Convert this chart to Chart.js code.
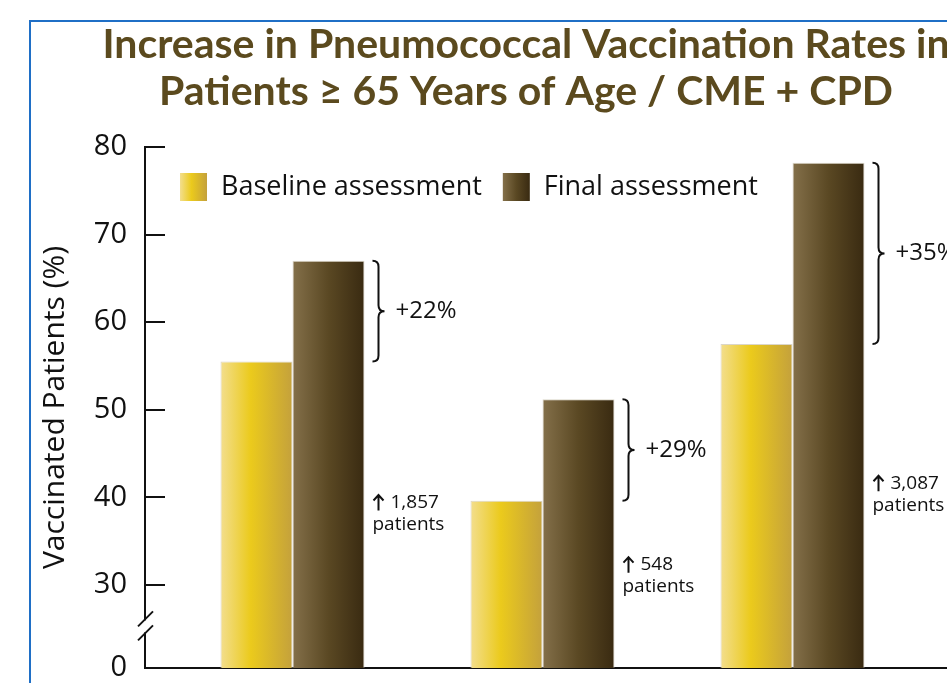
<!DOCTYPE html>
<html>
<head>
<meta charset="utf-8">
<script src="https://cdn.jsdelivr.net/npm/chart.js@4.4.1/dist/chart.umd.min.js"></script>
<style>
  html, body { margin: 0; padding: 0; background: #fff; overflow: hidden; width: 947px; height: 683px; }
  #frame { position: absolute; left: 29px; top: 20px; width: 1100px; height: 800px; border: 2px solid #1f6fc6; }
  #chart { position: absolute; left: 0; top: 0; }
</style>
</head>
<body>
<div id="frame"></div>
<canvas id="chart" width="1052" height="683"></canvas>
<script>
const groups       = [1, 2, 3];
const baseline     = [55.5, 39.6, 57.5];
const final        = [67.0, 51.2, 78.2];
const increases    = ['+22%', '+29%', '+35%'];
const patientGains = ['1,857', '548', '3,087'];
const yTicks       = [30, 40, 50, 60, 70, 80];
const seriesNames  = ['Baseline assessment', 'Final assessment'];

const AXIS_FLOOR = 20.5;   // broken axis, bottom is labelled 0
const CAT_PCT    = 0.576;
const INK        = '#111';

const STOPS = [
  [[0, '#f3de8e'], [0.42, '#ebca1c'], [1, '#c4a13c']],
  [[0, '#84704a'], [0.5, '#5a4823'], [1, '#392a11']],
];

function hGradient(ctx, left, width, stops) {
  const g = ctx.createLinearGradient(left, 0, left + width, 0);
  stops.forEach(([o, c]) => g.addColorStop(o, c));
  return g;
}

function barFill(c) {
  const stops = STOPS[c.datasetIndex];
  const x = c.chart.scales.x;
  if (c.type !== 'data' || !x || !x.width) return stops[1][1];
  const w  = (x.getPixelForValue(2) - x.getPixelForValue(1)) * CAT_PCT / 2;
  const cx = x.getPixelForValue(groups[c.dataIndex]);
  const left = c.datasetIndex === 0 ? cx - w : cx;
  return hGradient(c.chart.ctx, left, w, stops);
}

function drawBrace(ctx, x, y1, y2, w) {
  const m = (y1 + y2) / 2, r = w / 2;
  ctx.beginPath();
  ctx.moveTo(x, y1);
  ctx.quadraticCurveTo(x + r, y1, x + r, y1 + r);
  ctx.lineTo(x + r, m - r);
  ctx.quadraticCurveTo(x + r, m, x + w, m);
  ctx.quadraticCurveTo(x + r, m, x + r, m + r);
  ctx.lineTo(x + r, y2 - r);
  ctx.quadraticCurveTo(x + r, y2, x, y2);
  ctx.stroke();
}

function drawUpArrow(ctx, x, y) {
  ctx.beginPath();
  ctx.moveTo(x, y + 8);
  ctx.lineTo(x, y - 7);
  ctx.moveTo(x - 5, y - 2);
  ctx.lineTo(x, y - 7.5);
  ctx.lineTo(x + 5, y - 2);
  ctx.stroke();
}

// braces, % increase and patient counts
const notesPlugin = {
  id: 'notes',
  afterDatasetsDraw(chart, args, opts) {
    const { ctx, scales: { y } } = chart;
    const mb = chart.getDatasetMeta(0).data;
    const mf = chart.getDatasetMeta(1).data;
    ctx.save();
    ctx.strokeStyle = INK;
    ctx.fillStyle = INK;
    ctx.lineWidth = 2;
    ctx.textAlign = 'left';
    ctx.textBaseline = 'middle';
    groups.forEach((g, i) => {
      const right = mf[i].x + mf[i].width / 2;
      const top = mf[i].y, bot = mb[i].y;
      drawBrace(ctx, right + 8, top, bot, 12);
      ctx.font = '24px "Open Sans"';
      ctx.fillText(increases[i], right + 31, (top + bot) / 2);
      const ny = y.getPixelForValue(opts.noteAt[i]);
      drawUpArrow(ctx, right + 14, ny);
      ctx.font = '19px "Open Sans"';
      ctx.fillText(patientGains[i], right + 26, ny);
      ctx.fillText('patients', right + 8, ny + 22);
    });
    ctx.restore();
  }
};

// legend drawn inside the plot area
const insideLegend = {
  id: 'insideLegend',
  afterDraw(chart) {
    const { ctx, chartArea } = chart;
    let x = chartArea.left + 35;
    const yc = chartArea.top + 40;
    ctx.save();
    ctx.font = '27px "Open Sans"';
    ctx.textBaseline = 'middle';
    chart.data.datasets.forEach((ds, i) => {
      ctx.fillStyle = hGradient(ctx, x, 27, STOPS[i]);
      ctx.fillRect(x, yc - 14, 27, 28);
      ctx.fillStyle = INK;
      ctx.fillText(ds.label, x + 41, yc);
      x += 41 + ctx.measureText(ds.label).width + 21;
    });
    ctx.restore();
  }
};

// axis break marks on the y axis
const axisBreak = {
  id: 'axisBreak',
  afterDraw(chart) {
    const { ctx, chartArea, scales: { y } } = chart;
    const x0 = chartArea.left;
    const yb = y.getPixelForValue((AXIS_FLOOR + yTicks[0]) / 2);
    ctx.save();
    ctx.fillStyle = '#fff';
    ctx.fillRect(x0 - 3, yb - 6, 6, 12);
    ctx.strokeStyle = INK;
    ctx.lineWidth = 2;
    [-7, 7].forEach(d => {
      ctx.beginPath();
      ctx.moveTo(x0 - 7, yb + d + 7);
      ctx.lineTo(x0 + 8, yb + d - 8);
      ctx.stroke();
    });
    ctx.restore();
  }
};

new Chart(document.getElementById('chart').getContext('2d'), {
  type: 'bar',
  data: {
    datasets: [
      { label: seriesNames[0], data: baseline.map((v, i) => ({ x: groups[i], y: v })), backgroundColor: barFill },
      { label: seriesNames[1], data: final.map((v, i) => ({ x: groups[i], y: v })),    backgroundColor: barFill },
    ],
  },
  options: {
    responsive: false,
    animation: false,
    events: [],
    categoryPercentage: CAT_PCT,
    barPercentage: 1,
    borderWidth: 1,
    borderColor: 'rgba(215,210,195,0.9)',
    borderSkipped: 'bottom',
    layout: { padding: { left: 0, right: 0, top: 0, bottom: 15 } },
    scales: {
      x: {
        type: 'linear', offset: false, min: 0.41, max: 4.038,
        afterBuildTicks: s => { s.ticks = groups.map(v => ({ value: v })); },
        grid: { display: false, drawTicks: false, offset: false },
        ticks: { display: false },
        border: { color: INK, width: 2 },
      },
      y: {
        min: AXIS_FLOOR, max: 80,
        afterBuildTicks: s => { s.ticks = [AXIS_FLOOR, ...yTicks].map(v => ({ value: v })); },
        afterFit: s => { s.width = 145; s.paddingTop = 0; s.paddingBottom = 0; },
        border: { color: INK, width: 2 },
        grid: { drawOnChartArea: false, tickLength: -20, color: INK, lineWidth: 2 },
        ticks: {
          padding: 38, color: INK, autoSkip: false,
          font: { family: 'Open Sans', size: 29 },
          callback: v => v === AXIS_FLOOR ? '0' : v,
        },
        title: {
          display: true, text: 'Vaccinated Patients (%)', color: INK,
          font: { family: 'Open Sans', size: 30 }, padding: { top: 37 },
        },
      },
    },
    plugins: {
      legend: { display: false },
      tooltip: { enabled: false },
      title: {
        display: true,
        text: ['Increase in Pneumococcal Vaccination Rates in', 'Patients \u2265 65 Years of Age / CME + CPD'],
        color: '#5b4a1e',
        font: { family: 'Lato', size: 41, weight: 'bold', lineHeight: '47px' },
        padding: { top: 21, bottom: 32 },
      },
      notes: { noteAt: [39.4, 32.3, 41.6] },
    },
  },
  plugins: [notesPlugin, insideLegend, axisBreak],
});
</script>
</body>
</html>
